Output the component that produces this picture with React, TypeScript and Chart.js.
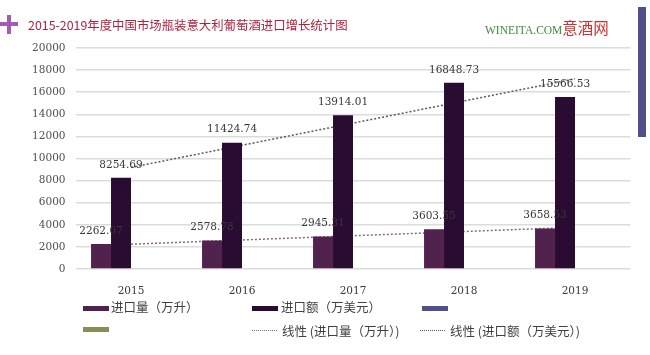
import React, { useEffect, useRef } from "react";
import Chart from "chart.js/auto";

const years = ["2015", "2016", "2017", "2018", "2019"];
const volume = [2262.07, 2578.78, 2945.31, 3603.55, 3658.53];
const value = [8254.69, 11424.74, 13914.01, 16848.73, 15566.53];
const volumeTrend = [2246, null, null, null, 3773];
const valueTrend = [9192, null, null, null, 17211];
const emptySeries: (number | null)[] = [null, null, null, null, null];

const C_VOL = "#52224f";
const C_VAL = "#2a0b32";
const C_BLUE = "#50508a";
const C_OLIVE = "#8b8b57";
const C_TREND_VOL = "#8a6688";
const C_TREND_VAL = "#5a5a5a";

const labelPlugin = {
  id: "barLabels",
  afterDatasetsDraw(chart: any) {
    const ctx = chart.ctx;
    ctx.save();
    ctx.font = "10.5px 'DejaVu Serif'";
    ctx.fillStyle = "#383838";
    ctx.textAlign = "center";
    ctx.textBaseline = "middle";
    [0, 1].forEach((di) => {
      const meta = chart.getDatasetMeta(di);
      const arr = di === 0 ? volume : value;
      meta.data.forEach((bar: any, j: number) => {
        ctx.fillText(arr[j].toFixed(2), bar.x, bar.y - 13);
      });
    });
    ctx.restore();
  },
};

export default function App() {
  const ref = useRef<HTMLCanvasElement>(null);
  useEffect(() => {
    if (!ref.current) return;
    const chart = new Chart(ref.current, {
      type: "bar",
      data: {
        labels: years,
        datasets: [
          { type: "bar", label: "进口量（万升）", data: volume, backgroundColor: C_VOL, order: 1 },
          { type: "bar", label: "进口额（万美元）", data: value, backgroundColor: C_VAL, order: 1 },
          { type: "bar", label: "", data: emptySeries, backgroundColor: C_BLUE, order: 1 },
          { type: "bar", label: "", data: emptySeries, backgroundColor: C_OLIVE, order: 1 },
          {
            type: "line", label: "线性 (进口量（万升）)", data: volumeTrend as any, borderColor: C_TREND_VOL,
            borderWidth: 1.5, borderDash: [2, 2], pointRadius: 0, spanGaps: true, order: 2,
          },
          {
            type: "line", label: "线性 (进口额（万美元）)", data: valueTrend as any, borderColor: C_TREND_VAL,
            borderWidth: 1.5, borderDash: [2, 2], pointRadius: 0, spanGaps: true, order: 2,
          },
        ] as any,
      },
      options: {
        animation: false,
        responsive: false,
        devicePixelRatio: 1,
        layout: { padding: { left: 0, right: 19.5, top: 48, bottom: 56 } },
        plugins: { legend: { display: false }, tooltip: { enabled: false } },
        datasets: { bar: { categoryPercentage: 0.72, barPercentage: 1 } },
        scales: {
          x: {
            grid: { display: false },
            border: { display: false },
            ticks: { font: { family: "'DejaVu Serif'", size: 10.5 }, color: "#383838", padding: 8 },
            afterFit: (s: any) => { s.height = 30; },
          },
          y: {
            min: 0,
            max: 20000,
            grid: { color: "#dcdcdc", lineWidth: 1.5, drawTicks: false },
            border: { display: false },
            ticks: {
              stepSize: 2000,
              font: { family: "'DejaVu Serif'", size: 10.5 },
              color: "#505050",
              padding: 10,
              callback: (v: any) => String(v),
            },
            afterFit: (s: any) => { s.width = 75.5; },
          },
        },
      } as any,
      plugins: [labelPlugin],
    });
    return () => chart.destroy();
  }, []);

  const legendText: React.CSSProperties = {
    position: "absolute",
    fontFamily: "'Noto Sans CJK SC', sans-serif",
    fontSize: 12.5,
    color: "#404040",
    lineHeight: "14px",
    whiteSpace: "nowrap",
  };
  const swatch = (x: number, y: number, c: string) => (
    <div style={{ position: "absolute", left: x, top: y, width: 26, height: 5, background: c }} />
  );
  const dotted = (x: number, y: number, c: string) => (
    <div style={{ position: "absolute", left: x, top: y, width: 25, height: 0, borderTop: `1.5px dotted ${c}` }} />
  );

  return (
    <div style={{ position: "absolute", left: 0, top: 0, width: 650, height: 355, background: "#fff", overflow: "hidden" }}>
      <canvas ref={ref} width={650} height={355} style={{ position: "absolute", left: 0, top: 0, width: 650, height: 355 }} />
      {/* plus sign */}
      <div style={{ position: "absolute", left: 0, top: 22, width: 18, height: 4, background: "#a35bb3" }} />
      <div style={{ position: "absolute", left: 7, top: 15, width: 4, height: 19, background: "#a35bb3" }} />
      <div style={{ position: "absolute", left: 28, top: 17, fontFamily: "'Noto Sans CJK SC', sans-serif", fontSize: 12.4, color: "#b0203c", lineHeight: "16px", whiteSpace: "nowrap" }}>
        2015-2019年度中国市场瓶装意大利葡萄酒进口增长统计图
      </div>
      {/* logo */}
      <div style={{ position: "absolute", left: 485, top: 18, whiteSpace: "nowrap", lineHeight: "18px" }}>
        <span style={{ fontFamily: "'Liberation Serif', serif", fontSize: 11.5, color: "#3f8a3f" }}>WINEITA.COM</span>
        <span style={{ fontFamily: "'Noto Sans CJK SC', sans-serif", fontSize: 15.5, color: "#d03030" }}>意酒网</span>
      </div>
      {/* right bar */}
      <div style={{ position: "absolute", left: 638, top: 7, width: 8, height: 130, background: C_BLUE }} />
      {/* legend */}
      {swatch(83, 306, C_VOL)}
      <div style={{ ...legendText, left: 111, top: 300 }}>进口量（万升）</div>
      {swatch(252, 306, C_VAL)}
      <div style={{ ...legendText, left: 281, top: 300 }}>进口额（万美元）</div>
      {swatch(422, 306, C_BLUE)}
      {swatch(83, 327, C_OLIVE)}
      {dotted(252, 330, C_TREND_VOL)}
      <div style={{ ...legendText, left: 282, top: 324 }}>线性 (进口量（万升）)</div>
      {dotted(420, 330, C_TREND_VAL)}
      <div style={{ ...legendText, left: 450, top: 324 }}>线性 (进口额（万美元）)</div>
    </div>
  );
}
